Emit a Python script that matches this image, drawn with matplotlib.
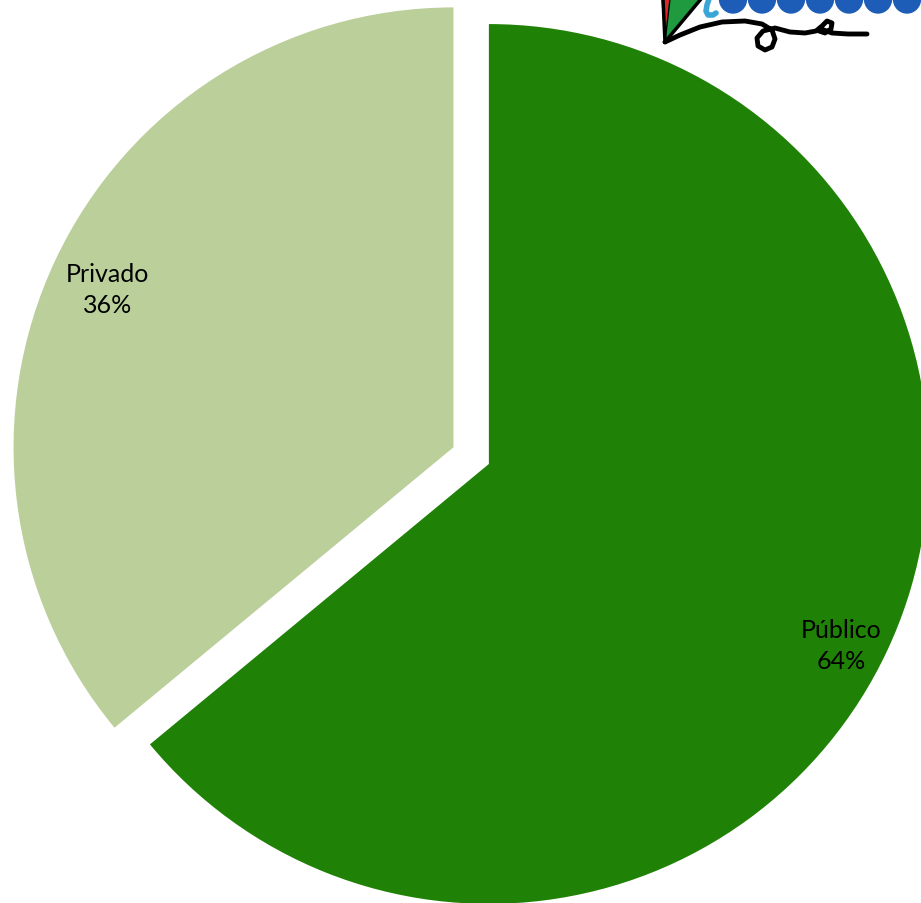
import matplotlib.pyplot as plt
from matplotlib.patches import Polygon, Ellipse
import numpy as np

# chart data
categories = ['Público', 'Privado']
shares = [64, 36]
colors = ['#1f8206', '#bbcf9b']
explode = [0.0, 0.089]

# where the data labels sit (fraction of radius, angle shift in degrees)
label_dist = [0.9, 0.865]
label_shift = [-2.0, 0.6]

fig = plt.figure(figsize=(9.21, 9.04), dpi=100)
ax = fig.add_axes([0, 0, 1, 1])

wedges, _ = ax.pie(shares, colors=colors, explode=explode, startangle=90,
                   counterclock=False, radius=1.0)

# labels: category name + percentage, placed along each wedge's middle angle
for w, name, val, d, sh in zip(wedges, categories, shares, label_dist, label_shift):
    mid = np.deg2rad((w.theta1 + w.theta2) / 2 + sh)
    cx, cy = w.center
    ax.text(cx + d * w.r * np.cos(mid), cy + d * w.r * np.sin(mid), f'{name}\n{val}%',
            ha='center', va='center', linespacing=1.45, fontsize=18,
            family=['Lato', 'DejaVu Sans'], color='black')

# position the pie so it is cropped on the right and bottom like the reference
ax.set_aspect('equal')
ax.set_xlim(-1.111, 0.982)
ax.set_ylim(-0.998, 1.057)
ax.axis('off')

# rough sketch of the logo in the top-right corner (pixel coords)
lg = fig.add_axes([0, 0, 1, 1], zorder=5)
lg.set_xlim(0, 921)
lg.set_ylim(904, 0)
lg.axis('off')
lg.add_patch(Polygon([(662, 0), (670, 0), (665, 40)], color='#e0262b'))
lg.add_patch(Polygon([(670, 0), (700, 0), (665, 42)], color='#1f9a3e'))
lg.plot([663, 665], [0, 43], color='black', lw=2.5)
lg.plot([665, 701], [43, 0], color='black', lw=2.5)
lg.plot([665, 670], [43, 0], color='black', lw=1)
# small light-blue curl
lg.plot([709, 707, 706, 708, 713, 716], [0, 6, 12, 16, 16, 14], color='#3aa6d8', lw=4,
        solid_capstyle='round', solid_joinstyle='round')
# blue scallops
for cx in np.arange(733, 940, 29):
    lg.add_patch(Ellipse((cx, 0), 27, 28, color='#1d5db7'))
# black swoosh with loops
sx = [665, 680, 700, 722, 745, 762, 772, 775, 772, 765, 758, 757, 763, 775, 790, 805,
      816, 822, 827, 832, 831, 825, 819, 821, 832, 848, 867]
sy = [43, 36, 28, 23, 22, 25, 31, 40, 48, 51, 47, 39, 32, 29, 33, 34,
      32, 27, 22, 24, 30, 34, 32, 30, 34, 35, 35]
lg.plot(sx, sy, color='black', lw=3.5, solid_capstyle='round', solid_joinstyle='round')

fig.savefig('out.png', dpi=100)
